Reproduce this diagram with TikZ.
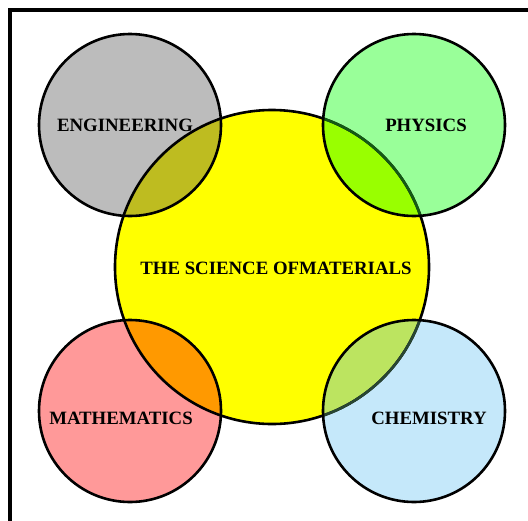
\documentclass[tikz,border=0pt]{standalone}
\usepackage{fontspec}
\setmainfont{Liberation Serif}
\definecolor{enggray}{RGB}{188,188,188}
\definecolor{phygreen}{RGB}{153,255,153}
\definecolor{mathpink}{RGB}{255,153,153}
\definecolor{chemblue}{RGB}{197,232,250}
\definecolor{sciyellow}{RGB}{255,255,0}
\definecolor{engov}{RGB}{190,188,32}
\definecolor{phyov}{RGB}{153,255,0}
\definecolor{mathov}{RGB}{255,153,0}
\definecolor{chemov}{RGB}{188,228,96}
\definecolor{phyline}{RGB}{20,90,20}
\definecolor{chemline}{RGB}{40,70,50}
\tikzset{
  ring/.style={draw=black, line width=2.6pt},
  lbl/.style={font=\bfseries\fontsize{18.8}{20}\selectfont, inner sep=0pt, text=black}
}
\begin{document}
\begin{tikzpicture}[x=1pt,y=-1pt]
\useasboundingbox (0,0) rectangle (528,520);
\clip (0,0) rectangle (528,520);
\fill[white] (0,0) rectangle (528,520);
\draw[line width=4pt] (10,10) rectangle (560,560);
\coordinate (E) at (130,125);
\coordinate (P) at (414,125);
\coordinate (M) at (130,411);
\coordinate (C) at (414,411);
\coordinate (S) at (272,267);
% fills
\fill[enggray] (E) circle[radius=91pt];
\fill[phygreen] (P) circle[radius=91pt];
\fill[mathpink] (M) circle[radius=91pt];
\fill[chemblue] (C) circle[radius=91pt];
\fill[sciyellow] (S) circle[radius=157pt];
\begin{scope}
  \clip (S) circle[radius=157pt];
  \fill[engov] (E) circle[radius=91pt];
  \fill[phyov] (P) circle[radius=91pt];
  \fill[mathov] (M) circle[radius=91pt];
  \fill[chemov] (C) circle[radius=91pt];
\end{scope}
% borders
\draw[ring] (S) circle[radius=157pt];
\begin{scope}
  \clip (P) circle[radius=91pt];
  \draw[ring, draw=phyline] (S) circle[radius=157pt];
\end{scope}
\begin{scope}
  \clip (C) circle[radius=91pt];
  \draw[ring, draw=chemline] (S) circle[radius=157pt];
\end{scope}
\draw[ring] (E) circle[radius=91pt];
\draw[ring] (P) circle[radius=91pt];
\draw[ring] (M) circle[radius=91pt];
\draw[ring] (C) circle[radius=91pt];
% labels
\node[lbl] (eng) at (125,125) {ENGINEERING};
\node[lbl] (phy) at (426,125) {PHYSICS};
\node[lbl] (sci) at (276,268) {THE SCIENCE OFMATERIALS};
\node[lbl] (mat) at (121,418) {MATHEMATICS};
\node[lbl] (che) at (429,418) {CHEMISTRY};
\end{tikzpicture}
\end{document}
